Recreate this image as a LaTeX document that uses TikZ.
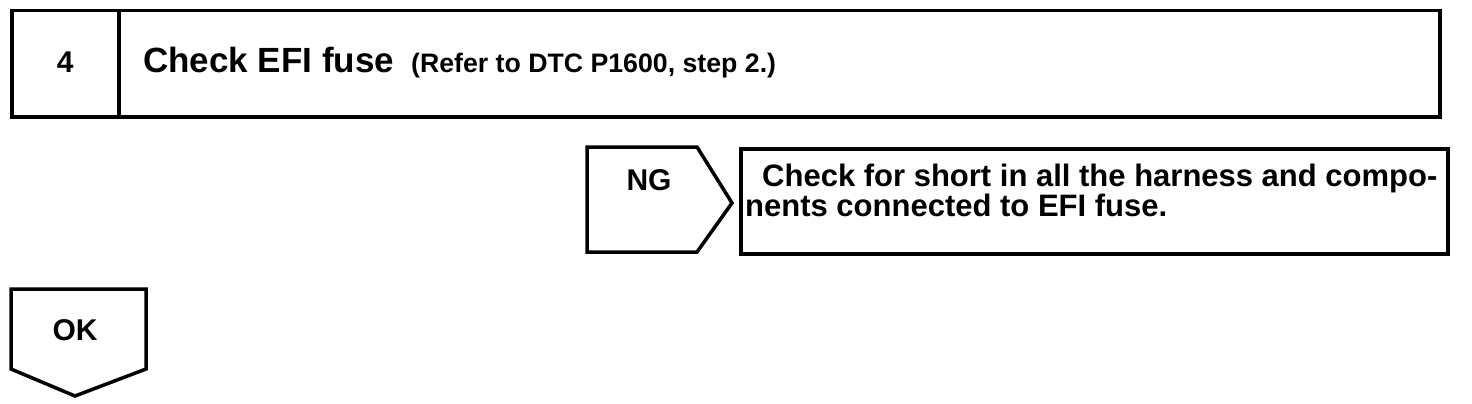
\documentclass[tikz,border=0pt]{standalone}
\usepackage{fontspec}
\setmainfont{Liberation Sans}
\begin{document}
\begin{tikzpicture}[x=1pt,y=-1pt,
  outline/.style={draw=black,line width=3.5pt,line join=miter},
  lbl/.style={font=\bfseries\fontsize{30}{30}\selectfont,inner sep=0pt},
]
\useasboundingbox (0,0) rectangle (1472,404);
% top box
\node[outline,minimum width=107pt,minimum height=106pt,inner sep=0pt,anchor=north west] (num) at (10,9) {};
\node[outline,minimum width=1321pt,minimum height=106pt,inner sep=0pt,anchor=north west] (title) at (117,9) {};
\node[lbl] (numtxt) at ([yshift=2pt]num.center) {4};
\node[inner sep=0pt,anchor=base west] (titletxt) at (143,73)
  {\bfseries\fontsize{35}{35}\selectfont Check EFI fuse\hspace{17pt}{\fontsize{26.7}{27}\selectfont (Refer to DTC P1600, step 2.)}};
% NG arrow
\coordinate (ng1) at (587,147);
\coordinate (ng2) at (697,147);
\coordinate (ng3) at (732,203);
\coordinate (ng4) at (697,252);
\coordinate (ng5) at (587,252);
\draw[outline] (ng1) -- (ng2) -- (ng3) -- (ng4) -- (ng5) -- cycle;
\node[lbl] (ngtxt) at (649,180) {NG};
% NG result box
\node[outline,minimum width=707pt,minimum height=105pt,inner sep=0pt,anchor=north west] (res) at (739,147) {};
\node[inner sep=0pt,anchor=base west,align=left,font=\bfseries\fontsize{31}{26}\selectfont] (restxt) at (745,216)
  {\hspace{17pt}Check for short in all the harness and compo-\\nents connected to EFI fuse.};
% OK arrow
\coordinate (ok1) at (11,289);
\coordinate (ok2) at (146,289);
\coordinate (ok3) at (146,369);
\coordinate (ok4) at (75,396);
\coordinate (ok5) at (11,369);
\draw[outline] (ok1) -- (ok2) -- (ok3) -- (ok4) -- (ok5) -- cycle;
\node[lbl] (oktxt) at (75,330) {OK};
\end{tikzpicture}
\end{document}
